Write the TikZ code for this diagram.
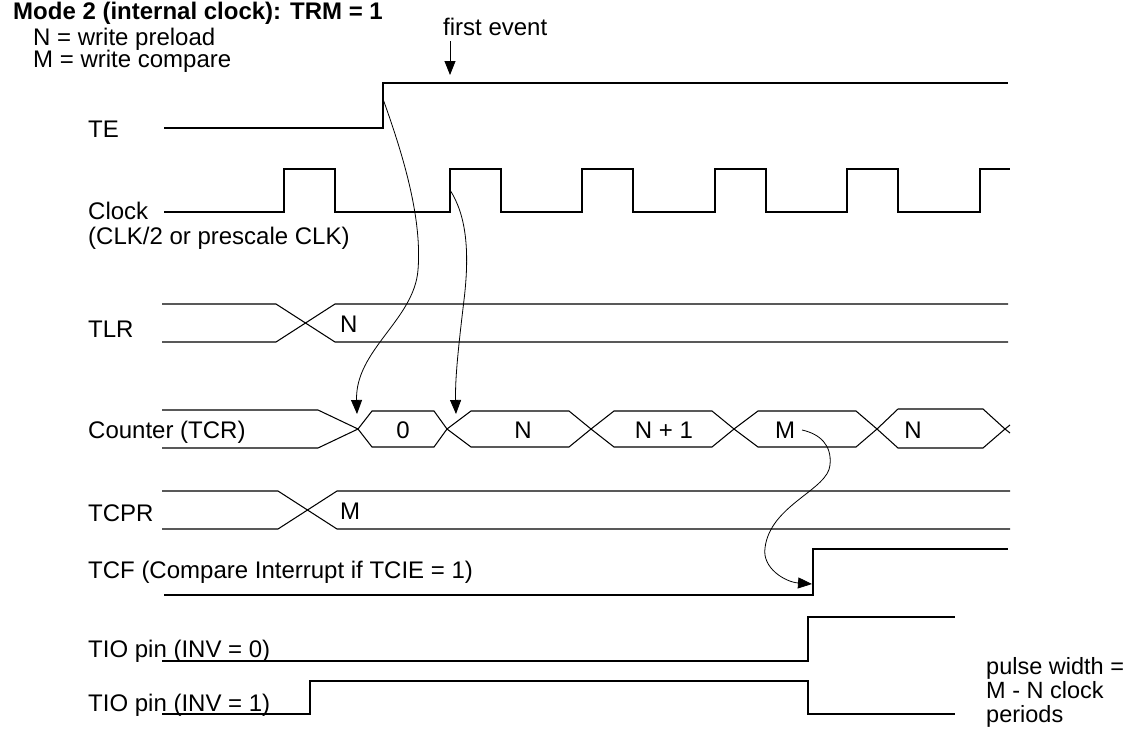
\documentclass[tikz,border=0pt]{standalone}
\usepackage{fontspec}
\setmainfont{Liberation Sans}
\usetikzlibrary{arrows.meta}
\begin{document}
\begin{tikzpicture}[x=1pt,y=-1pt,
  sig/.style={line width=1.05pt, line join=miter},
  txt/.style={anchor=base west, inner sep=0pt, font=\fontsize{24}{26}\selectfont},
  val/.style={anchor=base, inner sep=0pt, font=\fontsize{24}{26}\selectfont},
  causal/.style={line width=0.8pt, -{Triangle[length=14pt,width=11pt]}},
]
\useasboundingbox (0,0) rectangle (1127,737);

% title and legend
\node[txt, font=\fontsize{24}{26}\selectfont\bfseries] (title) at (13,19) {Mode 2 (internal clock): TRM = 1};
\node[txt] (legn) at (33,45) {N = write preload};
\node[txt] (legm) at (33,67) {M = write compare};
\node[txt] (fev) at (443,35) {first event};
\coordinate (fea) at (450,41);
\coordinate (feb) at (450,75);
\draw[causal] (fea) -- (feb);

% labels
\node[txt] (lte) at (88,137) {TE};
\node[txt] (lclk) at (88,219) {Clock};
\node[txt] (lclk2) at (88,244) {(CLK/2 or prescale CLK)};
\node[txt] (ltlr) at (88,337) {TLR};
\node[txt] (ltcr) at (88,438) {Counter (TCR)};
\node[txt] (ltcpr) at (88,521) {TCPR};
\node[txt] (ltcf) at (88,578) {TCF (Compare Interrupt if TCIE = 1)};
\node[txt] (ltio0) at (88,657) {TIO pin (INV = 0)};
\node[txt] (ltio1) at (88,711) {TIO pin (INV = 1)};
\node[txt, font=\fontsize{23.5}{26}\selectfont] (pw1) at (986,674) {pulse width =};
\node[txt, font=\fontsize{23.5}{26}\selectfont] (pw2) at (986,698) {M - N clock};
\node[txt, font=\fontsize{23.5}{26}\selectfont] (pw3) at (986,722) {periods};

% TE
\draw[sig] (164,128) -- (383,128) -- (383,83) -- (1008,83);
% Clock
\draw[sig] (164,212) -- (284,212) -- (284,169) -- (335,169) -- (335,212)
  -- (450,212) -- (450,169) -- (501,169) -- (501,212)
  -- (582,212) -- (582,169) -- (633,169) -- (633,212)
  -- (715,212) -- (715,169) -- (766,169) -- (766,212)
  -- (847,212) -- (847,169) -- (898,169) -- (898,212)
  -- (980,212) -- (980,169) -- (1010,169);
% TLR
\draw[sig] (162,304) -- (276,304) -- (335,342) -- (1008,342);
\draw[sig] (162,342) -- (276,342) -- (335,304) -- (1008,304);
\node[txt] (vtlr) at (340,332) {N};
% Counter
\draw[sig] (162,410) -- (318,410) -- (358,429);
\draw[sig] (162,448) -- (318,448) -- (358,429);
\draw[sig] (358,429) -- (372,411) -- (434,411) -- (447,429) -- (434,447) -- (372,447) -- cycle;
\draw[sig] (447,429) -- (471,411) -- (569,411) -- (591,429) -- (569,447) -- (471,447) -- cycle;
\draw[sig] (591,429) -- (614,411) -- (712,411) -- (734,429) -- (712,447) -- (614,447) -- cycle;
\draw[sig] (734,429) -- (758,411) -- (856,411) -- (877,429) -- (856,447) -- (758,447) -- cycle;
\draw[sig] (877,429) -- (898,409) -- (983,409) -- (1005,429) -- (983,448) -- (898,448) -- cycle;
\draw[sig] (1005,429) -- (1010,425);
\draw[sig] (1005,429) -- (1010,433);
\node[val] (c0) at (403,438) {0};
\node[val] (c1) at (523,438) {N};
\node[val] (c2) at (664,438) {N + 1};
\node[val] (c3) at (785,438) {M};
\node[val] (c4) at (913,438) {N};
% TCPR
\draw[sig] (162,491) -- (278,491) -- (337,529) -- (1010,529);
\draw[sig] (162,529) -- (278,529) -- (337,491) -- (1010,491);
\node[txt] (vtcpr) at (340,519) {M};
% TCF
\draw[sig] (164,595) -- (813,595) -- (813,549) -- (1008,549);
% TIO
\draw[sig] (162,661) -- (808,661) -- (808,617) -- (955,617);
\draw[sig] (162,714) -- (310,714) -- (310,681) -- (808,681) -- (808,714) -- (955,714);

% causal arrows
\coordinate (teedge) at (383,99);
\coordinate (cnt0) at (357,414);
\coordinate (clkedge) at (450,190);
\coordinate (cntn) at (456,414);
\coordinate (cntm) at (802,430);
\coordinate (tcfedge) at (812,584);
\draw[causal] (teedge) .. controls (405,160) and (422,220) .. (418,270)
  .. controls (414,320) and (355,350) .. (cnt0);
\draw[causal] (clkedge) .. controls (466,215) and (470,250) .. (464,300)
  .. controls (458,350) and (455,380) .. (cntn);
\draw[causal] (cntm) .. controls (820,434) and (832,445) .. (830,465)
  .. controls (828,490) and (770,505) .. (765,548)
  .. controls (762,568) and (785,582) .. (tcfedge);
\end{tikzpicture}
\end{document}
